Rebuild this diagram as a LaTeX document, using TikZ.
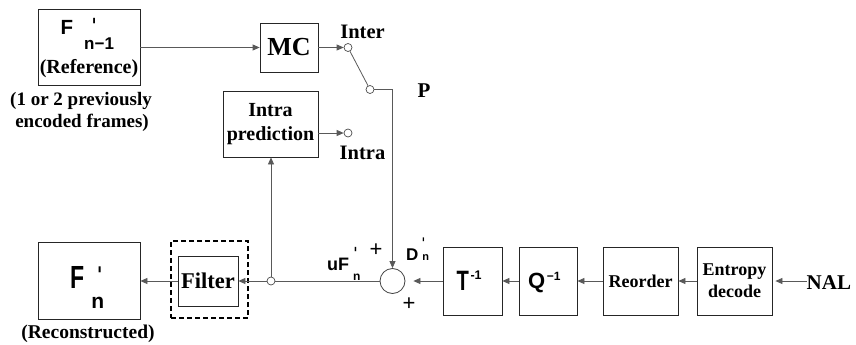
\documentclass[tikz,border=0pt]{standalone}
\usepackage{fontspec}
\setmainfont{Liberation Serif}
\setsansfont{Liberation Sans}
\newfontfamily\narrowsf{Liberation Sans}[FakeStretch=0.72]
\newfontfamily\primefont{DejaVu Sans}
\usetikzlibrary{arrows.meta}
\newcommand{\myfs}[1]{\fontsize{#1}{#1}\selectfont}
\newcommand{\myprm}[1]{{\primefont\bfseries\fontsize{#1}{#1}\selectfont ˈ}}
\begin{document}
\begin{tikzpicture}[x=1pt,y=-1pt,
  blk/.style={draw=black!85,line width=0.8pt,inner sep=0pt},
  conn/.style={draw=black!65,line width=0.8pt},
  arr/.style={conn,-{Triangle[length=7pt,width=6pt]}},
  port/.style={circle,draw=black!70,fill=white,line width=0.7pt,minimum size=8pt,inner sep=0pt},
  txt/.style={inner sep=0pt,font=\bfseries\myfs{20}},
  sf/.style={inner sep=0pt,anchor=base west}]
\useasboundingbox (0,0) rectangle (856,345);

% reference frame
\node[blk,minimum width=102pt,minimum height=76pt] (fprev) at (89,47.5) {};
\node[sf] (fprevlbl) at (60.5,35) {\sffamily\bfseries\myfs{20.5}F\hspace{11pt}\rlap{\hspace{7pt}\raisebox{1.5pt}{\myprm{20}}}\raisebox{-15pt}{\myfs{17}n−1}};
\node[txt,anchor=base] (reflbl) at (89,74) {(Reference)};
\node[txt,anchor=base,font=\bfseries\myfs{19}] (prev1) at (81,105) {(1 or 2 previously};
\node[txt,anchor=base,font=\bfseries\myfs{19}] (prev2) at (82,127) {encoded frames)};

% MC and switch
\node[blk,minimum width=58pt,minimum height=49pt,font=\bfseries\myfs{26}] (mc) at (289,47.5) {MC};
\node[port] (pinter) at (348,47.5) {};
\node[port] (ppivot) at (370,89.5) {};
\node[port] (pintra) at (348,133) {};
\node[txt,anchor=base,font=\bfseries\myfs{20.5}] (interlbl) at (362.5,39) {Inter};
\node[txt,anchor=base,font=\bfseries\myfs{20.5}] (intralbl) at (362.5,159) {Intra};
\node[txt,anchor=base,font=\bfseries\myfs{21}] (plbl) at (424,97) {P};

% intra prediction
\node[blk,minimum width=95pt,minimum height=66pt,align=center,font=\bfseries\fontsize{20}{24}\selectfont] (intra) at (270.5,124) {Intra\\prediction};

% bottom row
\node[blk,minimum width=102pt,minimum height=77pt] (fn) at (89,280.5) {};
\node[sf] (fnlbl) at (70,288) {\narrowsf\bfseries\myfs{32}F\hspace{7pt}\rlap{\hspace{5pt}\raisebox{5pt}{\myprm{22}}}\raisebox{-20pt}{\sffamily\bfseries\myfs{21}n}};
\node[txt,anchor=base,font=\bfseries\myfs{19.5}] (reclbl) at (88,338.5) {(Reconstructed)};

\node[draw=black,line width=1.8pt,dash pattern=on 5pt off 3pt,minimum width=77pt,minimum height=77pt,inner sep=0pt] (filtdash) at (209.5,279.5) {};
\node[blk,minimum width=60pt,minimum height=50pt,font=\bfseries\myfs{22.5}] (filt) at (208,281) {Filter};

\node[port] (junc) at (271,281) {};
\node[circle,draw=black!75,line width=0.8pt,minimum size=25pt,inner sep=0pt] (sum) at (392.5,281) {};
\node[inner sep=0pt,font=\sffamily\myfs{22}] (plustop) at (376,250) {+};
\node[inner sep=0pt,font=\sffamily\myfs{22}] (plusbot) at (409,304) {+};
\node[sf] (uflbl) at (327,270) {\sffamily\bfseries\myfs{18}uF\hspace{4pt}\rlap{\hspace{0pt}\raisebox{11pt}{\myprm{16}}}\raisebox{-10pt}{\myfs{12}n}};
\node[sf] (dlbl) at (406,260) {\sffamily\bfseries\myfs{17}D\hspace{4pt}\rlap{\hspace{-1pt}\raisebox{12pt}{\myprm{14}}}\myfs{11}n};

\node[blk,minimum width=59pt,minimum height=68pt] (tbox) at (472.5,281) {};
\node[sf] (tlbl) at (456.5,290) {\narrowsf\bfseries\myfs{28}T\hspace{1.5pt}\raisebox{11pt}{\sffamily\bfseries\myfs{12.5}-1}};
\node[blk,minimum width=58pt,minimum height=68pt] (qbox) at (548,281) {};
\node[sf] (qlbl) at (528,288) {\sffamily\bfseries\myfs{22}Q\hspace{1.5pt}\raisebox{8pt}{\myfs{12}−1}};
\node[blk,minimum width=75pt,minimum height=68pt,font=\bfseries\myfs{18}] (reo) at (640.5,281) {Reorder};
\node[blk,minimum width=75pt,minimum height=68pt,align=center,font=\bfseries\fontsize{18}{22}\selectfont] (ent) at (734.5,281) {Entropy\\decode};
\node[txt,anchor=base west,font=\bfseries\myfs{21}] (nal) at (806.5,289) {NAL};

% connectors
\draw[arr] (fprev.east) -- (mc.west);
\draw[arr] (mc.east) -- (pinter.west);
\draw[conn] (pinter) -- (ppivot);
\draw[arr] (ppivot.east) -| (sum.north);
\draw[arr] (intra.east |- pintra) -- (pintra.west);
\draw[arr] (junc.north) -- (junc |- intra.south);
\draw[conn] (sum.west) -- (junc.east);
\draw[arr] (junc.west) -- (filt.east);
\draw[arr] (filt.west) -- (filt.west -| fn.east);
\draw[arr,shorten >=8pt] (tbox.west) -- (sum.east);
\draw[arr] (qbox.west) -- (tbox.east);
\draw[arr] (reo.west) -- (qbox.east);
\draw[arr] (ent.west) -- (reo.east);
\draw[arr,shorten >=3pt] (nal.west |- ent.east) -- (ent.east);
\end{tikzpicture}
\end{document}
